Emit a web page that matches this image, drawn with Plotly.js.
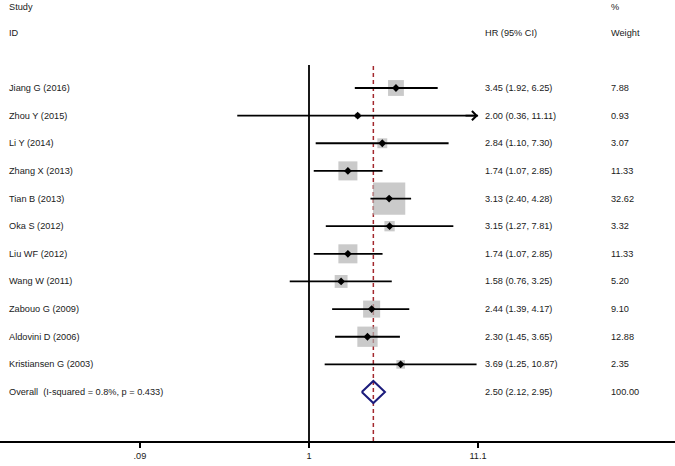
<!DOCTYPE html>
<html>
<head>
<meta charset="utf-8">
<script src="https://cdn.plot.ly/plotly-3.0.1.min.js"></script>
<style>html,body{margin:0;padding:0;background:#fff;}#chart{width:675px;height:466px;}</style>
</head>
<body>
<div id="chart"></div>
<script>
const studies = ["Jiang G (2016)","Zhou Y (2015)","Li Y (2014)","Zhang X (2013)","Tian B (2013)","Oka S (2012)","Liu WF (2012)","Wang W (2011)","Zabouo G (2009)","Aldovini D (2006)","Kristiansen G (2003)"];
const hr    = [3.45, 2.00, 2.84, 1.74, 3.13, 3.15, 1.74, 1.58, 2.44, 2.30, 3.69];
const lower = [1.92, 0.36, 1.10, 1.07, 2.40, 1.27, 1.07, 0.76, 1.39, 1.45, 1.25];
const upper = [6.25, 11.11, 7.30, 2.85, 4.28, 7.81, 2.85, 3.25, 4.17, 3.65, 10.87];
const weight = [7.88, 0.93, 3.07, 11.33, 32.62, 3.32, 11.33, 5.20, 9.10, 12.88, 2.35];
const overallLabel = "Overall\u00a0\u00a0(I-squared = 0.8%, p = 0.433)";
const overallHR = 2.50, overallLo = 2.12, overallHi = 2.95, overallWeight = 100.00;
const tickVals = [0.09, 1, 11.1];
const tickText = [".09", "1", "11.1"];
const axisMax = 11.1;

const fmt = v => v.toFixed(2);
const n = studies.length;
const rows = studies.map((s, i) => i);
const font = {family: "Liberation Sans, Arial, sans-serif", size: 9.2, color: "#1a1a1a"};

const boxes = {
  type: "scatter", mode: "markers", x: hr, y: rows,
  marker: {symbol: "square", color: "#b4b4b4", size: weight.map(w => 5.65 * Math.sqrt(w)), line: {width: 0}},
  hoverinfo: "skip", showlegend: false
};
const cx = [], cy = [];
for (let i = 0; i < n; i++) {
  cx.push(lower[i], Math.min(upper[i], axisMax * 1.001), null);
  cy.push(i, i, null);
}
const ci = {type: "scatter", mode: "lines", x: cx, y: cy, line: {color: "#000", width: 1.8}, hoverinfo: "skip", showlegend: false};
const pts = {type: "scatter", mode: "markers", x: hr, y: rows, marker: {symbol: "diamond", color: "#000", size: 6}, hoverinfo: "skip", showlegend: false};
const dh = 0.4;
const diamond = {
  type: "scatter", mode: "lines",
  x: [overallLo, overallHR, overallHi, overallHR, overallLo],
  y: [n, n - dh, n, n + dh, n],
  line: {color: "#1c1c7c", width: 2}, hoverinfo: "skip", showlegend: false
};

const ann = [];
const hdrY1 = (441 - 7) / 376, hdrY2 = (441 - 33) / 376;
const xs = 7 / 675, xh = 483 / 675, xw = 609 / 675;
function txt(x, y, yref, t) {
  ann.push({x: x, y: y, xref: "paper", yref: yref, text: t, showarrow: false, xanchor: "left", yanchor: "middle", font: font});
}
txt(xs, hdrY1, "paper", "Study");
txt(xw, hdrY1, "paper", "%");
txt(xs, hdrY2, "paper", "ID");
txt(xh, hdrY2, "paper", "HR (95% CI)");
txt(xw, hdrY2, "paper", "Weight");
for (let i = 0; i < n; i++) {
  txt(xs, i, "y", studies[i]);
  txt(xh, i, "y", fmt(hr[i]) + " (" + fmt(lower[i]) + ", " + fmt(upper[i]) + ")");
  txt(xw, i, "y", fmt(weight[i]));
}
txt(xs, n, "y", overallLabel);
txt(xh, n, "y", fmt(overallHR) + " (" + fmt(overallLo) + ", " + fmt(overallHi) + ")");
txt(xw, n, "y", fmt(overallWeight));

for (let i = 0; i < n; i++) {
  if (upper[i] > axisMax) {
    ann.push({x: Math.log10(axisMax), y: i, xref: "x", yref: "y", ax: -14, ay: 0, axref: "pixel", ayref: "pixel",
      showarrow: true, arrowhead: 4, arrowsize: 1.0, arrowwidth: 1.8, arrowcolor: "#000", text: ""});
  }
}

const layout = {
  width: 675, height: 466,
  margin: {l: 0, r: 0, t: 65, b: 25},
  paper_bgcolor: "#fff", plot_bgcolor: "#fff",
  showlegend: false,
  xaxis: {
    type: "log", range: [-1.911, 2.2635],
    tickvals: tickVals, ticktext: tickText,
    showgrid: false, zeroline: false,
    showline: true, linecolor: "#000", linewidth: 1.6,
    ticks: "outside", ticklen: 5, tickwidth: 1.5, tickcolor: "#000",
    tickfont: font, fixedrange: true
  },
  yaxis: {
    range: [n + 1.773, -0.832],
    showgrid: false, zeroline: false, showline: false, showticklabels: false, ticks: "", fixedrange: true
  },
  shapes: [
    {type: "line", xref: "x", yref: "paper", x0: 1, x1: 1, y0: 0, y1: 1, line: {color: "#000", width: 1.8}, layer: "below"},
    {type: "line", xref: "x", yref: "paper", x0: overallHR, x1: overallHR, y0: 0, y1: 1, line: {color: "#a3282e", width: 1.5, dash: "4px,3px"}, layer: "below"}
  ],
  annotations: ann
};

Plotly.newPlot("chart", [boxes, ci, pts, diamond], layout, {displayModeBar: false, staticPlot: true});
</script>
</body>
</html>
